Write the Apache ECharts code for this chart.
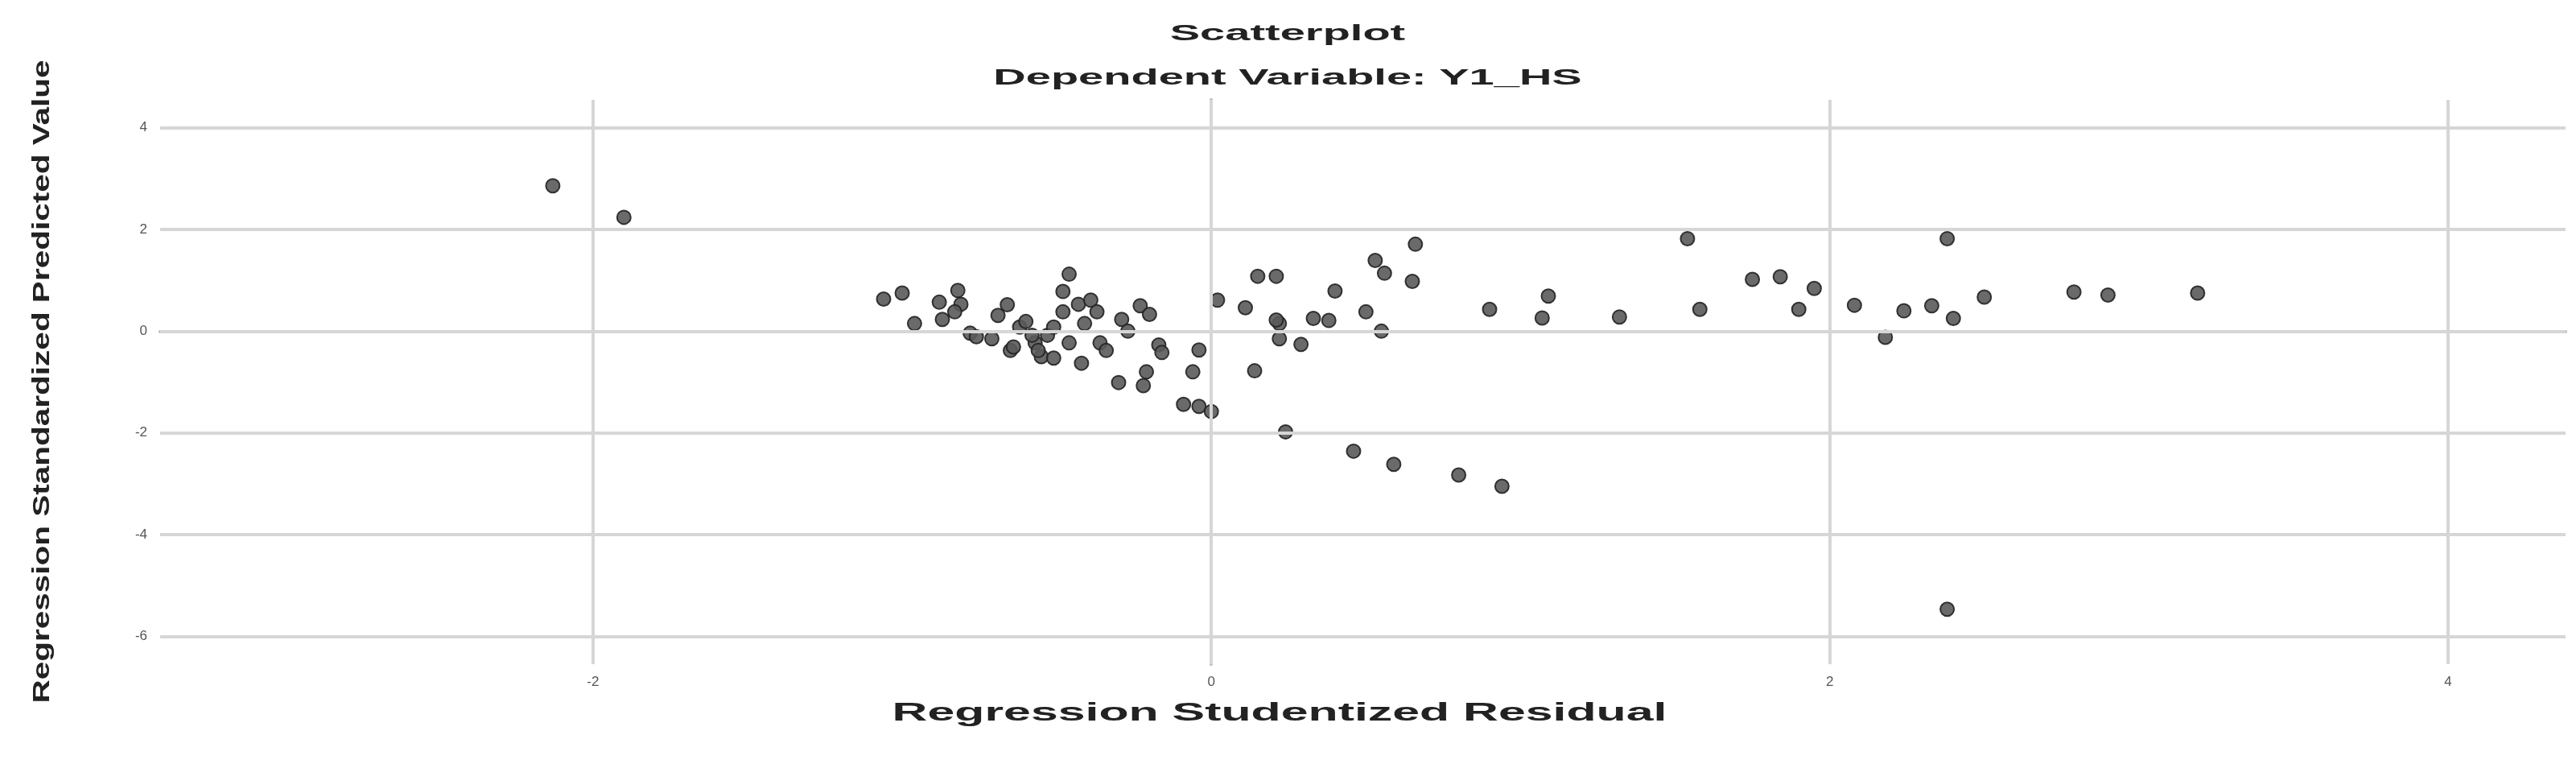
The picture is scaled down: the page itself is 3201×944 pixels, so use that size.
<!DOCTYPE html>
<html>
<head>
<meta charset="utf-8">
<script src="https://cdn.jsdelivr.net/npm/echarts@6/dist/echarts.min.js"></script>
<style>html,body{margin:0;padding:0;background:#fff}#main{width:3201px;height:944px}</style>
</head>
<body>
<div id="main"></div>
<script>
var myChart = echarts.init(document.getElementById('main'));

// residual (x) and predicted (y) values
var residuals = [
    3.19, 2.90, 2.79, 2.50, 2.40, 2.33, 2.38, 2.38, 2.24, 2.18, 2.08, 1.95, 1.90, 1.84, 1.75, 1.58, 1.54,
    1.32, 1.09, 1.07, 0.90, 0.94, 0.80, 0.66, 0.65, 0.59, 0.56, 0.53, 0.55, 0.50, 0.46, 0.40, 0.38, 0.33,
    0.29, 0.24, 0.22, 0.22, 0.21, 0.21, 0.15, 0.14, 0.11, 0.02, -0.04, -0.06, -0.09, -0.04, 0.00,
    -2.13, -1.90,
    -1.06, -1.00, -0.96, -0.88, -0.82, -0.81, -0.87, -0.78, -0.76, -0.69, -0.66, -0.65, -0.62, -0.60,
    -0.57, -0.55, -0.53, -0.51, -0.48, -0.46, -0.46, -0.43, -0.41, -0.39, -0.37, -0.36, -0.42, -0.34,
    -0.29, -0.27, -0.23, -0.20, -0.17, -0.16, -0.21, -0.22, -0.30,
    -0.71, -0.64, -0.58, -0.51, -0.56, -0.83, -0.48
];
var predicted = [
    0.75, 0.71, 0.77, 0.67, 0.25, 0.50, 1.82, -5.47, 0.40, -0.12, 0.51, 0.84, 0.43, 1.07, 1.02, 0.43, 1.82,
    0.28, 0.69, 0.26, 0.43, -3.05, -2.83, 1.71, 0.98, -2.62, 1.14, 1.39, 0.00, 0.38, -2.36, 0.79, 0.21, 0.25,
    -0.26, -1.98, -0.15, 0.15, 0.22, 1.08, 1.08, -0.78, 0.46, 0.61, -0.37, -0.80, -1.44, -1.48, -1.58,
    2.86, 2.24,
    0.63, 0.75, 0.15, 0.57, 0.80, 0.53, 0.23, -0.04, -0.11, 0.31, 0.52, -0.38, 0.08, 0.19,
    -0.23, -0.50, -0.08, -0.53, 0.78, 1.12, -0.23, 0.53, 0.15, 0.61, 0.38, -0.23, -0.63, -0.38,
    0.23, 0.00, 0.50, 0.33, -0.27, -0.42, -0.80, -1.07, -1.01,
    -0.15, -0.31, -0.08, 0.08, -0.38, 0.38, 0.38
];
var xTicks = [-2, 0, 2, 4];
var yTicks = [-6, -4, -2, 0, 2, 4];

var points = residuals.map(function (x, i) { return [x, predicted[i]]; });

// the source picture is stretched sideways, so the texts are scaled too
function stretchedText(text, x, y, size, sx, rot) {
    return {
        type: 'text', x: x, y: y, rotation: rot || 0, scaleX: sx,
        style: {
            text: text, fontFamily: 'Liberation Sans', fontWeight: 'bold', fontSize: size,
            fill: '#222', align: 'center', verticalAlign: 'middle'
        }
    };
}

var option = {
    backgroundColor: '#fff',
    graphic: [
        stretchedText('Scatterplot', 1600, 42, 28, 2.0),
        stretchedText('Dependent Variable: Y1_HS', 1600, 97, 28, 2.0),
        stretchedText('Regression Studentized Residual', 1590, 886, 32, 1.9),
        stretchedText('Regression Standardized Predicted Value', 53, 474, 30, 1.35, Math.PI / 2)
    ],
    grid: { left: 199, right: 13, top: 124, bottom: 119 },
    xAxis: {
        type: 'value', min: -3.4, max: 4.38,
        axisLine: { lineStyle: { color: '#bbb', width: 4 } },
        axisTick: { show: false },
        axisLabel: {
            fontSize: 17, color: '#555', margin: 14,
            customValues: xTicks, formatter: function (v) { return v; }
        },
        splitLine: { show: false }
    },
    yAxis: {
        type: 'value', min: -6.55, max: 4.55,
        axisLine: { show: true, lineStyle: { color: '#bbb', width: 4 } },
        axisTick: { show: false },
        axisLabel: {
            fontSize: 17, color: '#555', margin: 16,
            customValues: yTicks, formatter: function (v) { return v; }
        },
        splitLine: { show: false }
    },
    series: [
        {
            type: 'line', silent: true, symbol: 'none', data: [],
            markLine: {
                silent: true, symbol: 'none', label: { show: false },
                lineStyle: { color: '#d6d6d6', width: 4, type: 'solid' },
                data: xTicks.map(function (v) { return { xAxis: v }; })
                    .concat(yTicks.map(function (v) { return { yAxis: v }; }))
            }
        },
        {
            type: 'scatter',
            symbolSize: 17,
            data: points,
            itemStyle: { color: '#5a5a5a', borderColor: '#222', borderWidth: 2, opacity: 0.9 }
        }
    ]
};

option && myChart.setOption(option);
</script>
</body>
</html>
